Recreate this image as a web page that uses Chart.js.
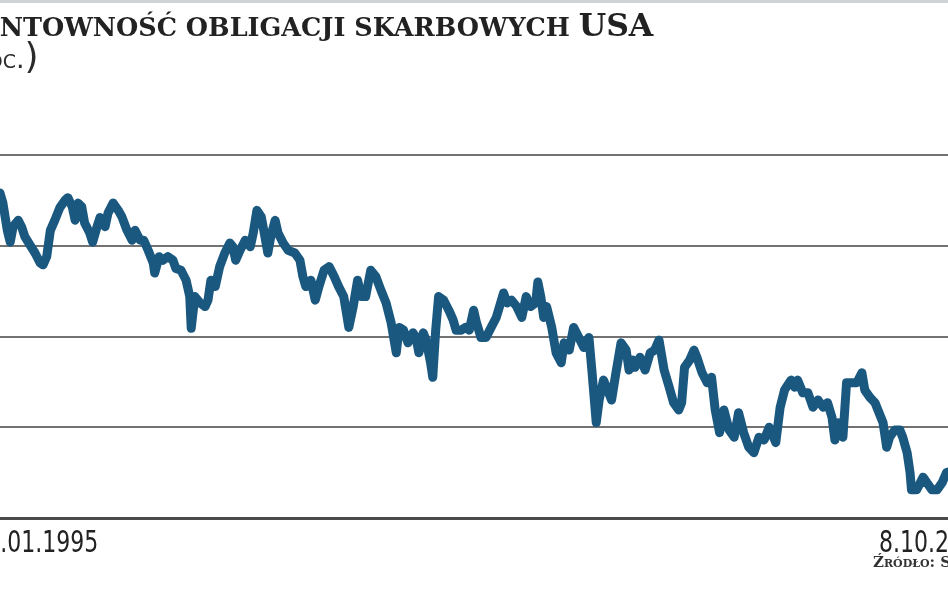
<!DOCTYPE html>
<html>
<head>
<meta charset="utf-8">
<script src="https://cdn.jsdelivr.net/npm/chart.js@4/dist/chart.umd.min.js"></script>
<style>
  html, body { margin: 0; padding: 0; background: #fff; overflow: hidden; }
  #wrap { position: relative; width: 948px; height: 593px; overflow: hidden; }
  #topband { position: absolute; left: 0; top: 0; width: 948px; height: 3px; background: #cfd3d8; }
  #title { position: absolute; left: -41px; top: 6px; white-space: nowrap; color: #222;
           font-family: "DejaVu Serif", serif; font-weight: bold; font-size: 25.5px; }
  #title .big { font-size: 31.5px; }
  #unit { position: absolute; left: -51px; top: 35px; white-space: nowrap; color: #2a2a2a;
          font-family: "DejaVu Sans", sans-serif; font-size: 27px; font-variant: small-caps; }
  #unit .par { font-size: 36px; }
  #source { position: absolute; left: 873px; top: 553px; white-space: nowrap; color: #333;
            font-family: "DejaVu Serif", serif; font-weight: bold; font-size: 15px; font-variant: small-caps; }
  canvas { position: absolute; left: 0; top: 0; }
</style>
</head>
<body>
<div id="wrap">
  <canvas id="lineChart" width="948" height="593"></canvas>
  <div id="topband"></div>
  <div id="title">RENTOWNOŚĆ OBLIGACJI SKARBOWYCH <span class="big">USA</span></div>
  <div id="unit"><span class="par">(</span>proc.<span class="par">)</span></div>
  <div id="source">Źródło: S</div>
</div>
<script>
// daty (rok dziesiętny) i rentowność (proc.)
var dates = [1995.00,1995.19,1995.23,1995.29,1995.33,1995.37,1995.44,1995.49,1995.53,1995.60,
  1995.67,1995.74,1995.78,1995.83,1995.88,1995.94,1996.01,1996.08,1996.12,1996.18,
  1996.22,1996.26,1996.31,1996.35,1996.42,1996.46,1996.52,1996.56,1996.63,1996.67,
  1996.74,1996.81,1996.86,1996.93,1997.00,1997.04,1997.11,1997.16,1997.22,1997.29,
  1997.31,1997.37,1997.42,1997.49,1997.56,1997.60,1997.67,1997.74,1997.79,1997.81,
  1997.86,1997.93,1998.00,1998.04,1998.08,1998.14,1998.20,1998.27,1998.34,1998.38,
  1998.42,1998.48,1998.55,1998.62,1998.66,1998.71,1998.77,1998.82,1998.86,1998.90,
  1998.96,1999.00,1999.07,1999.14,1999.23,1999.30,1999.34,1999.38,1999.45,1999.51,
  1999.56,1999.63,1999.70,1999.77,1999.83,1999.90,1999.97,2000.03,2000.09,2000.14,
  2000.20,2000.27,2000.34,2000.41,2000.48,2000.55,2000.62,2000.66,2000.72,2000.78,
  2000.85,2000.89,2000.93,2000.99,2001.03,2001.09,2001.12,2001.16,2001.20,2001.27,
  2001.34,2001.40,2001.44,2001.51,2001.57,2001.62,2001.68,2001.72,2001.78,2001.85,
  2001.92,2001.99,2002.05,2002.09,2002.14,2002.20,2002.27,2002.34,2002.40,2002.46,
  2002.53,2002.56,2002.60,2002.64,2002.68,2002.75,2002.81,2002.88,2002.92,2002.99,
  2003.05,2003.12,2003.19,2003.26,2003.30,2003.36,2003.40,2003.46,2003.53,2003.57,
  2003.63,2003.70,2003.77,2003.81,2003.86,2003.89,2003.96,2004.03,2004.10,2004.16,
  2004.22,2004.29,2004.36,2004.42,2004.49,2004.53,2004.57,2004.64,2004.70,2004.74,
  2004.81,2004.88,2004.94,2004.99,2005.05,2005.11,2005.18,2005.25,2005.31,2005.38,
  2005.45,2005.52,2005.59,2005.66,2005.73,2005.79,2005.82,2005.88,2005.94,2006.03,
  2006.08,2006.12,2006.19,2006.26,2006.33,2006.40,2006.47,2006.53,2006.59,2006.63,
  2006.67,2006.74,2006.79,2006.86,2006.93,2007.00,2007.04,2007.11,2007.18,2007.22,
  2007.29,2007.34,2007.38,2007.45,2007.52,2007.56,2007.62,2007.66,2007.68,2007.75,
  2007.84,2007.89,2007.96,2008.03,2008.10,2008.16,2008.27];

var yields = [7.39,7.58,7.47,7.17,7.04,7.21,7.28,7.20,7.10,7.01,
  6.92,6.81,6.79,6.88,7.17,7.28,7.42,7.50,7.53,7.43,
  7.28,7.47,7.43,7.25,7.14,7.04,7.21,7.31,7.21,7.36,
  7.47,7.39,7.32,7.17,7.06,7.17,7.06,7.06,6.95,6.81,
  6.70,6.88,6.84,6.88,6.84,6.75,6.73,6.62,6.44,6.09,
  6.44,6.37,6.33,6.40,6.62,6.55,6.77,6.92,7.03,6.99,
  6.84,6.95,7.06,6.99,7.14,7.39,7.32,7.10,6.92,7.10,
  7.28,7.14,7.03,6.95,6.92,6.84,6.66,6.55,6.62,6.40,
  6.55,6.73,6.77,6.66,6.55,6.44,6.10,6.33,6.62,6.44,
  6.44,6.73,6.66,6.51,6.37,6.15,5.82,6.10,6.07,5.93,
  6.04,5.99,5.82,6.04,5.96,5.71,5.55,6.07,6.44,6.40,
  6.29,6.18,6.07,6.07,6.10,6.07,6.29,6.15,5.99,5.99,
  6.10,6.21,6.37,6.48,6.37,6.40,6.33,6.21,6.44,6.33,
  6.37,6.60,6.44,6.21,6.33,6.10,5.82,5.71,5.93,5.85,
  6.10,5.99,5.88,5.99,5.63,5.05,5.30,5.52,5.38,5.30,
  5.60,5.93,5.85,5.63,5.74,5.66,5.77,5.63,5.82,5.85,
  5.96,5.63,5.44,5.27,5.19,5.27,5.66,5.74,5.85,5.77,
  5.60,5.49,5.55,5.19,4.94,5.19,4.97,4.89,5.16,4.94,
  4.78,4.72,4.89,4.86,5.00,4.89,4.83,5.22,5.41,5.52,
  5.44,5.52,5.38,5.38,5.22,5.30,5.22,5.27,5.11,4.86,
  5.05,4.89,5.49,5.49,5.49,5.60,5.41,5.33,5.27,5.19,
  5.05,4.78,4.89,4.97,4.97,4.89,4.72,4.50,4.31,4.31,
  4.45,4.39,4.31,4.31,4.39,4.50,4.53];

// etykiety osi X
var xLabels = ['2.01.1995', '8.10.2008'];
var xLabelValues = [1995.0, 2008.77];

// siatka osi Y
var yMin = 4, yMax = 8, yStep = 1;

var points = dates.map(function (d, i) { return { x: d, y: yields[i] }; });

// etykiety dat rysowane wąsko (zwężony krój)
var dateLabels = {
  id: 'dateLabels',
  afterDraw: function (chart) {
    var ctx = chart.ctx;
    var xs = chart.scales.x;
    var aligns = ['left', 'right'];
    ctx.save();
    ctx.font = '31px "DejaVu Sans Condensed", "DejaVu Sans", sans-serif';
    ctx.fillStyle = '#222';
    ctx.textBaseline = 'alphabetic';
    for (var i = 0; i < xLabels.length; i++) {
      ctx.save();
      ctx.translate(xs.getPixelForValue(xLabelValues[i]), 552);
      ctx.scale(0.79, 1);
      ctx.textAlign = aligns[i];
      ctx.fillText(xLabels[i], 0, 0);
      ctx.restore();
    }
    ctx.restore();
  }
};

var lineConfig = {
  type: 'line',
  data: {
    datasets: [{
      label: 'Rentowność',
      data: points,
      borderColor: 'rgb(27, 88, 128)',
      borderWidth: 9,
      borderJoinStyle: 'round',
      borderCapStyle: 'round',
      pointRadius: 0,
      tension: 0,
      fill: false
    }]
  },
  options: {
    responsive: false,
    animation: false,
    devicePixelRatio: 1,
    layout: { padding: { top: 155, bottom: 75, left: 0, right: 0 } },
    plugins: { legend: { display: false }, tooltip: { enabled: false } },
    scales: {
      x: {
        type: 'linear',
        min: 1995.19,
        max: 2008.18,
        display: false
      },
      y: {
        min: yMin,
        max: yMax,
        ticks: { display: false, stepSize: yStep },
        border: { display: false },
        grid: {
          drawTicks: false,
          color: function (c) { return c.tick && c.tick.value === yMin ? '#4a4a4a' : '#727272'; },
          lineWidth: function (c) { return c.tick && c.tick.value === yMin ? 3 : 2; }
        }
      }
    }
  },
  plugins: [dateLabels]
};

var lineChart = new Chart(document.getElementById('lineChart'), lineConfig);
</script>
</body>
</html>
